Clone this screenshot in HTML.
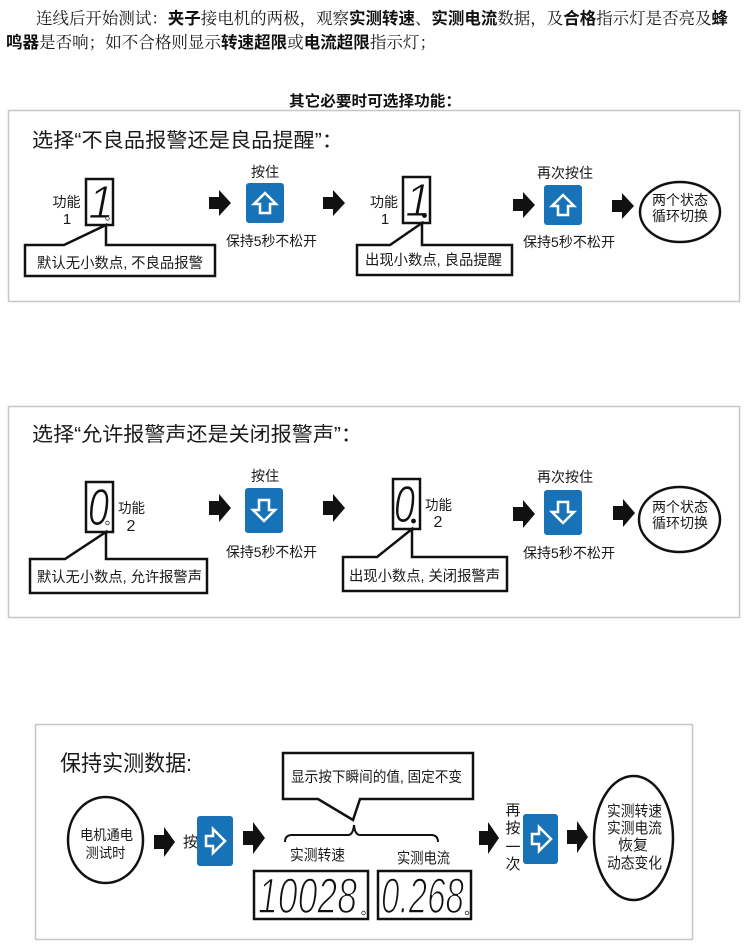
<!DOCTYPE html>
<html>
<head>
<meta charset="utf-8">
<style>
  html,body{margin:0;padding:0;background:#fff;}
  body{width:750px;height:952px;overflow:hidden;}
  svg{display:block;}
  .cn{font-family:"Liberation Sans","Noto Sans CJK SC",sans-serif;fill:#1a1a1a;}
  .song{font-family:"Liberation Serif","Noto Serif CJK SC","Noto Sans CJK SC",serif;fill:#1a1a1a;}
  .bd{font-family:"Liberation Sans","Noto Sans CJK SC",sans-serif;font-weight:700;fill:#111;}
  .dig{font-family:"Liberation Sans Narrow","Liberation Sans",sans-serif;font-style:italic;fill:#111;stroke:#fff;}
  .panel{fill:#fff;stroke:#c6c6c6;stroke-width:1.5;}
  .box{fill:#fff;stroke:#111;stroke-width:2.5;stroke-linejoin:miter;}
  .arr{fill:#111;}
  .btn{fill:#1872b8;}
  .ba{fill:none;stroke:#fff;stroke-width:2.5;stroke-linejoin:miter;}
  .ell{fill:#fff;stroke:#111;stroke-width:2.5;}
</style>
</head>
<body>
<svg width="750" height="952" viewBox="0 0 750 952" xmlns="http://www.w3.org/2000/svg">
  <rect x="0" y="0" width="750" height="952" fill="#fff"/>

  <!-- Top paragraph -->
  <text x="36" y="24" font-size="16.5" textLength="692" lengthAdjust="spacingAndGlyphs"><tspan class="song">连线后开始测试：</tspan><tspan class="bd">夹子</tspan><tspan class="song">接电机的两极，观察</tspan><tspan class="bd">实测转速</tspan><tspan class="song">、</tspan><tspan class="bd">实测电流</tspan><tspan class="song">数据，及</tspan><tspan class="bd">合格</tspan><tspan class="song">指示灯是否亮及</tspan><tspan class="bd">蜂</tspan></text>
  <text x="6" y="48" font-size="16.5" textLength="430" lengthAdjust="spacingAndGlyphs"><tspan class="bd">鸣器</tspan><tspan class="song">是否响；如不合格则显示</tspan><tspan class="bd">转速超限</tspan><tspan class="song">或</tspan><tspan class="bd">电流超限</tspan><tspan class="song">指示灯；</tspan></text>

  <text class="bd" x="289" y="106" font-size="15" textLength="172" lengthAdjust="spacingAndGlyphs">其它必要时可选择功能：</text>

  <!-- ================= PANEL 1 ================= -->
  <rect class="panel" x="8.5" y="110.5" width="731" height="191"/>
  <text class="cn" x="32" y="147" font-size="20" textLength="311" lengthAdjust="spacingAndGlyphs">选择“不良品报警还是良品提醒”：</text>

  <text class="cn" x="52.5" y="207" font-size="14" textLength="28" lengthAdjust="spacingAndGlyphs">功能</text>
  <text class="cn" x="67" y="224" font-size="15" text-anchor="middle">1</text>
  <rect class="box" x="86" y="179" width="27" height="46"/>
  <text class="dig" x="101" y="218" font-size="46" text-anchor="middle" stroke-width="1.1">1</text>
  <circle cx="107.5" cy="218.5" r="1.8" fill="#fff" stroke="#333" stroke-width="0.8"/>

  <path class="box" d="M25,245 H64 L106,225 V245 H215 V276 H25 Z"/>
  <text class="cn" x="37" y="268" font-size="14.5" textLength="166" lengthAdjust="spacingAndGlyphs">默认无小数点, 不良品报警</text>

  <path class="arr" d="M209,197 H219 V190 L231,203 L219,216 V209 H209 Z"/>

  <text class="cn" x="265" y="177" font-size="14" text-anchor="middle">按住</text>
  <rect class="btn" x="246" y="183" width="38" height="40" rx="3"/>
  <path class="ba" d="M265,193 L276,204 L270,204 L270,213 L260,213 L260,204 L254,204 Z"/>
  <text class="cn" x="226" y="246" font-size="14" textLength="91" lengthAdjust="spacingAndGlyphs">保持5秒不松开</text>

  <path class="arr" d="M323,197 H333 V190 L345,203 L333,216 V209 H323 Z"/>

  <text class="cn" x="370" y="207" font-size="14" textLength="28" lengthAdjust="spacingAndGlyphs">功能</text>
  <text class="cn" x="385" y="224" font-size="15" text-anchor="middle">1</text>
  <rect class="box" x="403" y="177" width="27" height="46"/>
  <text class="dig" x="418" y="216" font-size="46" text-anchor="middle" stroke-width="1.1">1</text>
  <circle cx="424.5" cy="215.5" r="2.4" fill="#111"/>

  <path class="box" d="M357,245 H390 L422,223 V245 H512 V275 H357 Z"/>
  <text class="cn" x="365" y="265" font-size="14.5" textLength="137" lengthAdjust="spacingAndGlyphs">出现小数点, 良品提醒</text>

  <path class="arr" d="M513,199 H523 V192 L535,205 L523,218 V211 H513 Z"/>

  <text class="cn" x="537" y="178" font-size="14" textLength="56" lengthAdjust="spacingAndGlyphs">再次按住</text>
  <rect class="btn" x="544" y="185" width="38" height="40" rx="3"/>
  <path class="ba" d="M563,195 L574,206 L568,206 L568,215 L558,215 L558,206 L552,206 Z"/>
  <text class="cn" x="523" y="247" font-size="14" textLength="92" lengthAdjust="spacingAndGlyphs">保持5秒不松开</text>

  <path class="arr" d="M612,200 H622 V193 L634,206 L622,219 V212 H612 Z"/>

  <ellipse class="ell" cx="680" cy="212" rx="40" ry="30"/>
  <text class="cn" x="652" y="205" font-size="14" textLength="56" lengthAdjust="spacingAndGlyphs">两个状态</text>
  <text class="cn" x="652" y="221" font-size="14" textLength="56" lengthAdjust="spacingAndGlyphs">循环切换</text>

  <!-- ================= PANEL 2 ================= -->
  <rect class="panel" x="8.5" y="406.5" width="731" height="211"/>
  <text class="cn" x="32" y="441" font-size="20" textLength="330" lengthAdjust="spacingAndGlyphs">选择“允许报警声还是关闭报警声”：</text>

  <rect class="box" x="86" y="482" width="27" height="50"/>
  <text class="dig" x="88" y="525" font-size="52" textLength="21" lengthAdjust="spacingAndGlyphs" stroke-width="1.0">0</text>
  <circle cx="107.5" cy="523" r="1.8" fill="#fff" stroke="#333" stroke-width="0.8"/>
  <text class="cn" x="118" y="513" font-size="14" textLength="27" lengthAdjust="spacingAndGlyphs">功能</text>
  <text class="cn" x="131" y="531" font-size="16" text-anchor="middle">2</text>

  <path class="box" d="M30,559 H65 L106,532 V559 H207 V593 H30 Z"/>
  <text class="cn" x="37" y="582" font-size="14.5" textLength="165" lengthAdjust="spacingAndGlyphs">默认无小数点, 允许报警声</text>

  <path class="arr" d="M209,501 H219 V494 L231,508 L219,522 V515 H209 Z"/>

  <text class="cn" x="265" y="481" font-size="14" text-anchor="middle">按住</text>
  <rect class="btn" x="245" y="488" width="38" height="45" rx="3"/>
  <path class="ba" d="M259,500 H269 V510 H275 L264,521 L253,510 H259 Z"/>
  <text class="cn" x="226" y="557" font-size="14" textLength="91" lengthAdjust="spacingAndGlyphs">保持5秒不松开</text>

  <path class="arr" d="M323,501 H333 V494 L345,508 L333,522 V515 H323 Z"/>

  <rect class="box" x="393" y="479" width="27" height="50"/>
  <text class="dig" x="394" y="522" font-size="52" textLength="21" lengthAdjust="spacingAndGlyphs" stroke-width="1.0">0</text>
  <circle cx="413.5" cy="521" r="2.4" fill="#111"/>
  <text class="cn" x="425" y="510" font-size="14" textLength="27" lengthAdjust="spacingAndGlyphs">功能</text>
  <text class="cn" x="438" y="527" font-size="16" text-anchor="middle">2</text>

  <path class="box" d="M343,557 H377 L412,529 V557 H507 V591 H343 Z"/>
  <text class="cn" x="349" y="581" font-size="14.5" textLength="151" lengthAdjust="spacingAndGlyphs">出现小数点, 关闭报警声</text>

  <path class="arr" d="M513,507 H523 V500 L535,514 L523,528 V521 H513 Z"/>

  <text class="cn" x="537" y="482" font-size="14" textLength="56" lengthAdjust="spacingAndGlyphs">再次按住</text>
  <rect class="btn" x="544" y="490" width="38" height="45" rx="3"/>
  <path class="ba" d="M558,502 H568 V512 H574 L563,523 L552,512 H558 Z"/>
  <text class="cn" x="523" y="558" font-size="14" textLength="92" lengthAdjust="spacingAndGlyphs">保持5秒不松开</text>

  <path class="arr" d="M613,506 H623 V499 L635,513 L623,527 V520 H613 Z"/>

  <ellipse class="ell" cx="679.5" cy="519.5" rx="40.5" ry="32.5"/>
  <text class="cn" x="652" y="512" font-size="14" textLength="56" lengthAdjust="spacingAndGlyphs">两个状态</text>
  <text class="cn" x="652" y="528" font-size="14" textLength="56" lengthAdjust="spacingAndGlyphs">循环切换</text>

  <!-- ================= PANEL 3 ================= -->
  <rect class="panel" x="35.5" y="724.5" width="657" height="215"/>
  <text class="cn" x="60" y="771" font-size="22" textLength="132" lengthAdjust="spacingAndGlyphs">保持实测数据:</text>

  <ellipse class="ell" cx="105.5" cy="840" rx="37.5" ry="43"/>
  <text class="cn" x="80" y="840" font-size="14" textLength="53" lengthAdjust="spacingAndGlyphs">电机通电</text>
  <text class="cn" x="85.5" y="858" font-size="14" textLength="40" lengthAdjust="spacingAndGlyphs">测试时</text>

  <path class="arr" d="M154,835 H164 V827 L175,842 L164,857 V849 H154 Z"/>
  <text class="cn" x="183" y="847" font-size="15">按</text>
  <rect class="btn" x="197" y="816" width="36" height="50" rx="3"/>
  <path class="ba" d="M206,836 H213 V829 L225,841 L213,853 V846 H206 Z"/>

  <path class="arr" d="M243,831 H253 V822 L265,838 L253,854 V845 H243 Z"/>

  <path class="box" d="M283,753 H473 V799 H360 L353,820 L318,799 H283 Z"/>
  <text class="cn" x="291" y="782" font-size="14.5" textLength="171" lengthAdjust="spacingAndGlyphs">显示按下瞬间的值, 固定不变</text>

  <path d="M285,842 Q285,835 292,835 H348 Q353,835 354,825 Q355,835 360,835 H431 Q438,835 438,842" fill="none" stroke="#111" stroke-width="2"/>

  <text class="cn" x="290" y="860" font-size="15" textLength="55" lengthAdjust="spacingAndGlyphs">实测转速</text>
  <text class="cn" x="397" y="863" font-size="15" textLength="53" lengthAdjust="spacingAndGlyphs">实测电流</text>

  <rect class="box" x="254" y="871" width="114" height="48"/>
  <text class="dig" x="258" y="913" font-size="50" textLength="99" lengthAdjust="spacingAndGlyphs" stroke-width="1.6">10028</text>
  <circle cx="363.5" cy="913" r="1.8" fill="#fff" stroke="#333" stroke-width="0.8"/>

  <rect class="box" x="378" y="871" width="93" height="48"/>
  <text class="dig" x="381" y="913" font-size="50" textLength="83" lengthAdjust="spacingAndGlyphs" stroke-width="1.6">0.268</text>
  <circle cx="467" cy="913" r="1.8" fill="#fff" stroke="#333" stroke-width="0.8"/>

  <path class="arr" d="M479,831 H488 V822 L499,838 L488,854 V845 H479 Z"/>

  <text class="cn" x="513" y="815" font-size="15" text-anchor="middle">再</text>
  <text class="cn" x="513" y="833" font-size="15" text-anchor="middle">按</text>
  <text class="cn" x="513" y="852" font-size="15" text-anchor="middle">一</text>
  <text class="cn" x="513" y="869" font-size="15" text-anchor="middle">次</text>

  <rect class="btn" x="523" y="814" width="35" height="50" rx="3"/>
  <path class="ba" d="M532,834 H539 V827 L551,839 L539,851 V844 H532 Z"/>

  <path class="arr" d="M567,830 H577 V821 L588,837 L577,853 V844 H567 Z"/>

  <ellipse class="ell" cx="633.5" cy="838" rx="39.5" ry="62"/>
  <text class="cn" x="607" y="816" font-size="15" textLength="55" lengthAdjust="spacingAndGlyphs">实测转速</text>
  <text class="cn" x="607" y="833" font-size="15" textLength="55" lengthAdjust="spacingAndGlyphs">实测电流</text>
  <text class="cn" x="618" y="850" font-size="15" textLength="30" lengthAdjust="spacingAndGlyphs">恢复</text>
  <text class="cn" x="607" y="868" font-size="15" textLength="55" lengthAdjust="spacingAndGlyphs">动态变化</text>
</svg>
</body>
</html>
